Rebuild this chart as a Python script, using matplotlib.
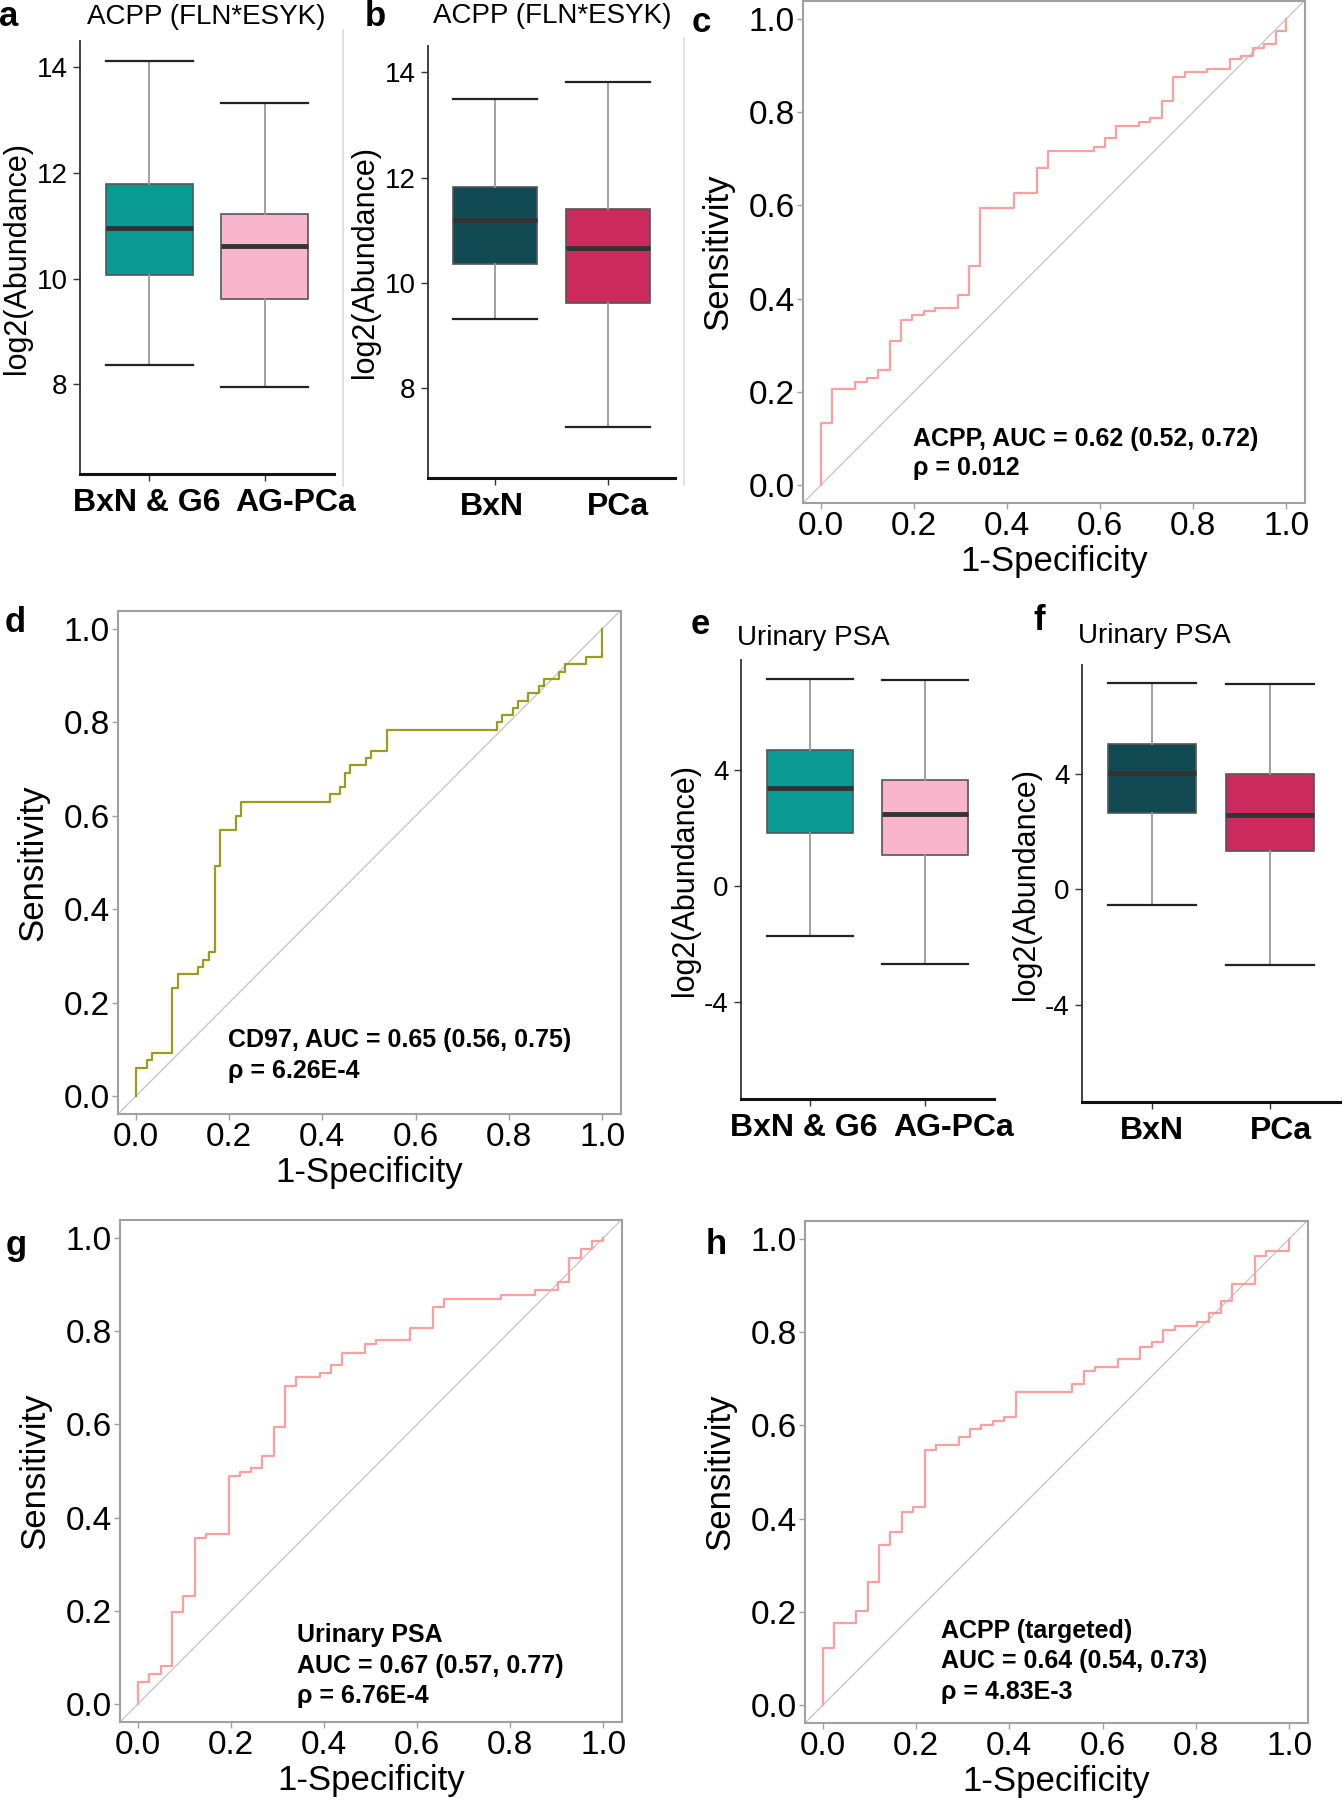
import matplotlib
matplotlib.use('Agg')
from matplotlib import pyplot as plt
from matplotlib.lines import Line2D
from matplotlib.transforms import offset_copy

plt.rcParams['font.family'] = ['Liberation Sans', 'DejaVu Sans']

W, H = 1343, 1800

# box stats: (whisker low, q1, median, q3, whisker high)
acpp_groups_a = ['BxN & G6', 'AG-PCa']
acpp_stats_a = [(8.36, 10.06, 10.96, 11.79, 14.13), (7.94, 9.62, 10.61, 11.23, 13.32)]
acpp_groups_b = ['BxN', 'PCa']
acpp_stats_b = [(9.32, 10.37, 11.19, 11.83, 13.49), (7.27, 9.62, 10.67, 11.41, 13.82)]
psa_groups_e = ['BxN & G6', 'AG-PCa']
psa_stats_e = [(-1.72, 1.82, 3.39, 4.69, 7.15), (-2.69, 1.08, 2.48, 3.65, 7.12)]
psa_groups_f = ['BxN', 'PCa']
psa_stats_f = [(-0.56, 2.62, 4.03, 5.04, 7.12), (-2.64, 1.31, 2.57, 3.99, 7.10)]

colors_ag = ['#0A9A94', '#F8B5CB']
colors_pca = ['#124A54', '#CC2A5E']

# ROC curves (1-specificity, sensitivity), step corners
fpr_c = [0, 0, 0.0245, 0.074, 0.099, 0.123, 0.148, 0.172, 0.197, 0.221, 0.246, 0.294, 0.318, 0.342,
         0.416, 0.464, 0.489, 0.586, 0.61, 0.634, 0.683, 0.708, 0.733, 0.757, 0.782, 0.83, 0.879,
         0.903, 0.928, 0.952, 0.977, 1.0]
tpr_c = [0, 0.133, 0.206, 0.222, 0.231, 0.248, 0.31, 0.355, 0.365, 0.373, 0.381, 0.407, 0.469, 0.594,
         0.627, 0.681, 0.716, 0.726, 0.744, 0.769, 0.779, 0.788, 0.823, 0.875, 0.885, 0.893, 0.913,
         0.92, 0.937, 0.945, 0.973, 1.0]

fpr_d = [0, 0, 0.024, 0.034, 0.078, 0.091, 0.134, 0.145, 0.158, 0.17, 0.181, 0.214, 0.225, 0.416,
         0.437, 0.449, 0.46, 0.493, 0.505, 0.538, 0.775, 0.785, 0.808, 0.82, 0.841, 0.864, 0.875,
         0.908, 0.92, 0.965, 1.0]
tpr_d = [0, 0.061, 0.077, 0.093, 0.231, 0.261, 0.277, 0.292, 0.308, 0.492, 0.57, 0.6, 0.63, 0.646,
         0.662, 0.692, 0.708, 0.723, 0.739, 0.784, 0.8, 0.815, 0.831, 0.845, 0.862, 0.877, 0.892,
         0.907, 0.924, 0.939, 1.0]

fpr_g = [0, 0, 0.024, 0.049, 0.073, 0.098, 0.122, 0.146, 0.195, 0.22, 0.244, 0.268, 0.293, 0.317,
         0.341, 0.391, 0.415, 0.439, 0.488, 0.512, 0.585, 0.634, 0.658, 0.781, 0.854, 0.902, 0.927,
         0.951, 0.976, 1.0]
tpr_g = [0, 0.047, 0.064, 0.081, 0.197, 0.233, 0.357, 0.365, 0.489, 0.498, 0.506, 0.533, 0.595,
         0.683, 0.701, 0.709, 0.727, 0.753, 0.772, 0.78, 0.806, 0.851, 0.869, 0.878, 0.887, 0.905,
         0.957, 0.975, 0.993, 1.0]

fpr_h = [0, 0, 0.024, 0.072, 0.096, 0.121, 0.145, 0.17, 0.194, 0.219, 0.243, 0.291, 0.316, 0.34,
         0.365, 0.389, 0.414, 0.535, 0.56, 0.584, 0.633, 0.681, 0.705, 0.73, 0.754, 0.803, 0.827,
         0.853, 0.877, 0.926, 0.951, 1.0]
tpr_h = [0, 0.123, 0.176, 0.203, 0.265, 0.344, 0.371, 0.415, 0.424, 0.548, 0.557, 0.574, 0.592,
         0.601, 0.61, 0.618, 0.672, 0.689, 0.716, 0.725, 0.743, 0.769, 0.778, 0.804, 0.813, 0.822,
         0.841, 0.867, 0.903, 0.964, 0.973, 1.0]

pink_line = '#FF9E9E'
olive_line = '#9C9C1C'


def add_ax(left, top, right, bottom):
    return fig.add_axes([left / W, 1 - bottom / H, (right - left) / W, (bottom - top) / H])


def box_panel(ax, groups, stats, colors, ylim, yticks, label_shift):
    bxp = []
    for g, s in zip(groups, stats):
        bxp.append(dict(label=g, whislo=s[0], q1=s[1], med=s[2], q3=s[3], whishi=s[4], fliers=[]))
    positions = [1, 2]
    parts = ax.bxp(bxp, positions=positions, widths=0.75, patch_artist=True, showfliers=False,
                   boxprops=dict(edgecolor='#555555', linewidth=1.2),
                   medianprops=dict(color='#333333', linewidth=3.5, solid_capstyle='butt'),
                   whiskerprops=dict(color='#999999', linewidth=1.3),
                   capprops=dict(color='#222222', linewidth=1.6), capwidths=0.75)
    for patch, c in zip(parts['boxes'], colors):
        patch.set_facecolor(c)
    ax.set_xlim(0.4, 2.6)
    ax.set_ylim(*ylim)
    ax.set_yticks(yticks)
    ax.set_yticklabels([str(t) for t in yticks], fontsize=20)
    ax.set_xticks(positions)
    ax.set_xticklabels([])
    # group names sit a little off their ticks in the original layout
    for p, g, dx in zip(positions, groups, label_shift):
        tr = offset_copy(ax.get_xaxis_transform(), fig=fig, x=dx, y=-29, units='dots')
        ax.text(p, 0, g, transform=tr, fontsize=23, fontweight='bold', ha='center', va='center')
    for sp in ['top', 'right']:
        ax.spines[sp].set_visible(False)
    ax.spines['left'].set_color('#333333')
    ax.spines['left'].set_linewidth(1.3)
    ax.spines['bottom'].set_color('#111111')
    ax.spines['bottom'].set_linewidth(2.2)
    ax.tick_params(axis='both', length=5, width=1, color='#333333', pad=4)
    ax.set_ylabel('log2(Abundance)', fontsize=22, labelpad=3)


def roc_panel(ax, fpr, tpr, color, lines, tx, ty0, dy):
    ax.plot(fpr, tpr, drawstyle='steps-post', color=color, linewidth=1.6)
    ax.axline((0, 0), (1, 1), color='#C8C8C8', linewidth=1.0, zorder=0)
    ax.set_xlim(-0.038, 1.04)
    ax.set_ylim(-0.038, 1.038)
    ticks = [0, 0.2, 0.4, 0.6, 0.8, 1.0]
    ax.set_xticks(ticks)
    ax.set_yticks(ticks)
    ax.set_xticklabels(['%.1f' % t for t in ticks], fontsize=24)
    ax.set_yticklabels(['%.1f' % t for t in ticks], fontsize=24)
    for sp in ax.spines.values():
        sp.set_color('#A0A0A0')
        sp.set_linewidth(1.5)
    ax.tick_params(axis='both', length=4, width=1, color='#A0A0A0', pad=2)
    ax.set_xlabel('1-Specificity', fontsize=25, labelpad=2)
    ax.set_ylabel('Sensitivity', fontsize=25, labelpad=10)
    for i, s in enumerate(lines):
        ax.text(tx, ty0 - i * dy, s, fontsize=18, fontweight='bold', ha='left', va='center')


fig = plt.figure(figsize=(W / 100, H / 100), dpi=100)

ax_a = add_ax(80, 41, 334, 474)
box_panel(ax_a, acpp_groups_a, acpp_stats_a, colors_ag, (6.3, 14.5), [8, 10, 12, 14], [-3, 31])
ax_b = add_ax(428, 46, 675, 478)
box_panel(ax_b, acpp_groups_b, acpp_stats_b, colors_pca, (6.3, 14.5), [8, 10, 12, 14], [-3, 10])
ax_e = add_ax(741, 660, 994, 1099)
box_panel(ax_e, psa_groups_e, psa_stats_e, colors_ag, (-7.35, 7.8), [-4, 0, 4], [-6, 29])
ax_f = add_ax(1082, 665, 1340, 1102)
box_panel(ax_f, psa_groups_f, psa_stats_f, colors_pca, (-7.37, 7.76), [-4, 0, 4], [0, 11])

ax_c = add_ax(803, 1, 1305, 503)
roc_panel(ax_c, fpr_c, tpr_c, pink_line,
          ['ACPP, AUC = 0.62 (0.52, 0.72)', '\u03c1 = 0.012'], 0.199, 0.1, 0.064)
ax_d = add_ax(118, 611, 621, 1114)
roc_panel(ax_d, fpr_d, tpr_d, olive_line,
          ['CD97, AUC = 0.65 (0.56, 0.75)', '\u03c1 = 6.26E-4'], 0.198, 0.12, 0.066)
ax_g = add_ax(120, 1220, 622, 1722)
roc_panel(ax_g, fpr_g, tpr_g, pink_line,
          ['Urinary PSA', 'AUC = 0.67 (0.57, 0.77)', '\u03c1 = 6.76E-4'], 0.342, 0.148, 0.065)
ax_h = add_ax(805, 1221, 1308, 1723)
roc_panel(ax_h, fpr_h, tpr_h, pink_line,
          ['ACPP (targeted)', 'AUC = 0.64 (0.54, 0.73)', '\u03c1 = 4.83E-3'], 0.254, 0.159, 0.065)

# panel titles
fig.text(206 / W, 1 - 17 / H, 'ACPP (FLN*ESYK)', fontsize=20, ha='center', va='center')
fig.text(552 / W, 1 - 16 / H, 'ACPP (FLN*ESYK)', fontsize=20, ha='center', va='center')
fig.text(737 / W, 1 - 638 / H, 'Urinary PSA', fontsize=20, ha='left', va='center')
fig.text(1078 / W, 1 - 636 / H, 'Urinary PSA', fontsize=20, ha='left', va='center')

# panel letters
letters = ['a', 'b', 'c', 'd', 'e', 'f', 'g', 'h']
letter_pos = [(9, 17), (375, 17), (701, 23), (15, 622), (700, 625), (1039, 621), (16, 1246), (716, 1244)]
for s, (x, y) in zip(letters, letter_pos):
    fig.text(x / W, 1 - y / H, s, fontsize=25, fontweight='bold', ha='center', va='center')

# thin separators between top-row panels
for x, y0, y1 in [(343, 30, 486), (684, 38, 485)]:
    fig.add_artist(Line2D([x / W, x / W], [1 - y0 / H, 1 - y1 / H], color='#DDDDDD', linewidth=1.2))

fig.savefig('out.png', dpi=100)
